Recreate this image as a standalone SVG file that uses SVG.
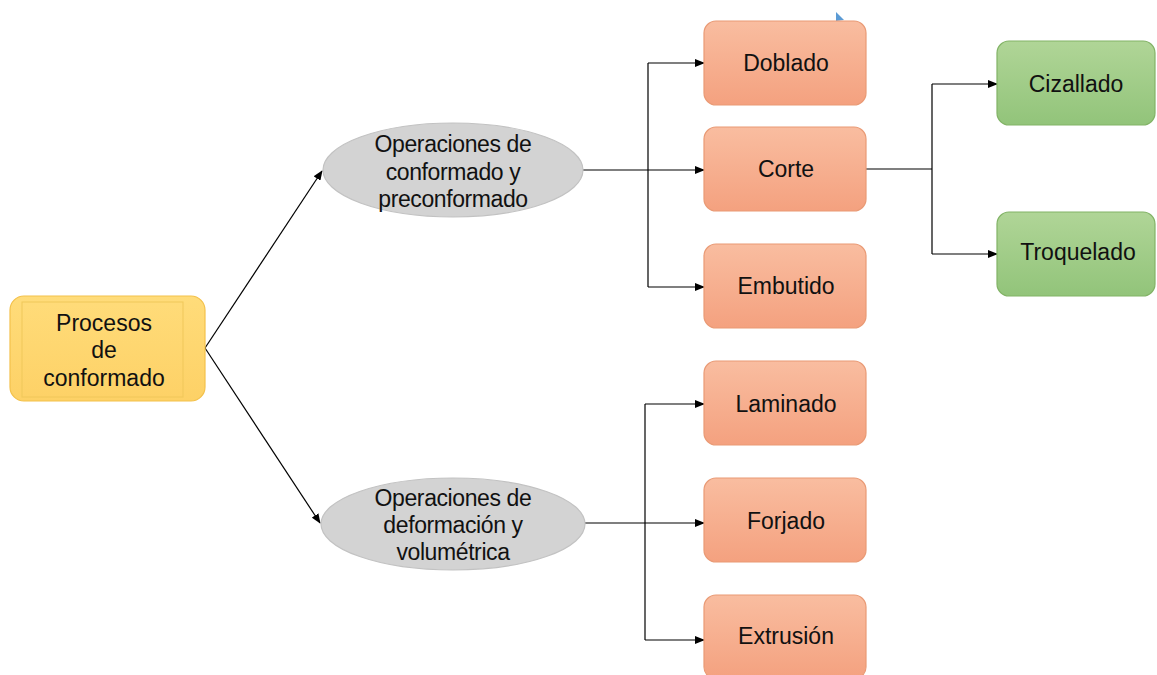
<svg xmlns="http://www.w3.org/2000/svg" width="1157" height="675" viewBox="0 0 1157 675">
<defs>
<linearGradient id="gOr" x1="0" y1="0" x2="0" y2="1"><stop offset="0" stop-color="#f9bda0"/><stop offset="1" stop-color="#f4a17f"/></linearGradient>
<linearGradient id="gGr" x1="0" y1="0" x2="0" y2="1"><stop offset="0" stop-color="#b0d597"/><stop offset="1" stop-color="#92c47a"/></linearGradient>
<linearGradient id="gYe" x1="0" y1="0" x2="0" y2="1"><stop offset="0" stop-color="#ffdc7a"/><stop offset="1" stop-color="#fdd166"/></linearGradient>
<marker id="arr" markerWidth="10" markerHeight="8" refX="9" refY="4" orient="auto" markerUnits="userSpaceOnUse"><path d="M0,0 L10,4 L0,8 Z" fill="#000"/></marker>
</defs>
<style>
text{font-family:"Liberation Sans",Arial,sans-serif;font-size:23px;fill:#111;text-anchor:middle}
.e{letter-spacing:-0.4px}
.or{fill:url(#gOr);stroke:#e99a75;stroke-width:1.2}
.gr{fill:url(#gGr);stroke:#82b366;stroke-width:1.2}
.el{fill:#d3d3d3;stroke:#c2c2c2;stroke-width:1.2}
.c{fill:none;stroke:#000;stroke-width:1.2}
.a{marker-end:url(#arr)}
</style>
<rect width="1157" height="675" fill="#fff"/>
<g id="connectors">
<path class="c a" d="M205,348 L322,171"/>
<path class="c a" d="M205,348 L320,523"/>
<path class="c" d="M583,170 L648,170 M648,63 L648,287"/>
<path class="c a" d="M648,63 L704,63"/>
<path class="c a" d="M648,170 L704,170"/>
<path class="c a" d="M648,287 L704,287"/>
<path class="c" d="M645,404 L645,640"/>
<path class="c a" d="M585,523 L704,523"/>
<path class="c a" d="M645,404 L704,404"/>
<path class="c a" d="M645,640 L704,640"/>
<path class="c" d="M866,169 L932,169 M932,84 L932,254"/>
<path class="c a" d="M932,84 L997,84"/>
<path class="c a" d="M932,254 L997,254"/>
</g>
<polygon points="836,12 844,20 836,21" fill="#5b9bd5"/>
<g id="n-procesos">
<rect x="10" y="296" width="195" height="105" rx="14" fill="url(#gYe)" stroke="#f3c14b" stroke-width="1.2"/>
<rect x="22" y="302" width="161" height="95" fill="none" stroke="#f0c75a" stroke-width="1"/>
<text x="104" y="331">Procesos</text>
<text x="104" y="358">de</text>
<text x="104" y="386">conformado</text>
</g>
<g id="n-op1">
<ellipse class="el" cx="453" cy="170" rx="130" ry="47"/>
<text class="e" x="453" y="152">Operaciones de</text>
<text class="e" x="453" y="180">conformado y</text>
<text class="e" x="453" y="207">preconformado</text>
</g>
<g id="n-op2">
<ellipse class="el" cx="453" cy="524" rx="132" ry="46"/>
<text class="e" x="453" y="506">Operaciones de</text>
<text class="e" x="453" y="533">deformación y</text>
<text class="e" x="453" y="560">volumétrica</text>
</g>
<g id="n-doblado"><rect class="or" x="704" y="21" width="162" height="84" rx="12"/><text x="786" y="71">Doblado</text></g>
<g id="n-corte"><rect class="or" x="704" y="127" width="162" height="84" rx="12"/><text x="786" y="177">Corte</text></g>
<g id="n-embutido"><rect class="or" x="704" y="244" width="162" height="84" rx="12"/><text x="786" y="294">Embutido</text></g>
<g id="n-laminado"><rect class="or" x="704" y="361" width="162" height="84" rx="12"/><text x="786" y="412">Laminado</text></g>
<g id="n-forjado"><rect class="or" x="704" y="478" width="162" height="84" rx="12"/><text x="786" y="529">Forjado</text></g>
<g id="n-extrusion"><rect class="or" x="704" y="595" width="162" height="84" rx="12"/><text x="786" y="644">Extrusión</text></g>
<g id="n-cizallado"><rect class="gr" x="997" y="41" width="158" height="84" rx="12"/><text x="1076" y="92">Cizallado</text></g>
<g id="n-troquelado"><rect class="gr" x="997" y="212" width="158" height="84" rx="12"/><text x="1078" y="260">Troquelado</text></g>
</svg>
